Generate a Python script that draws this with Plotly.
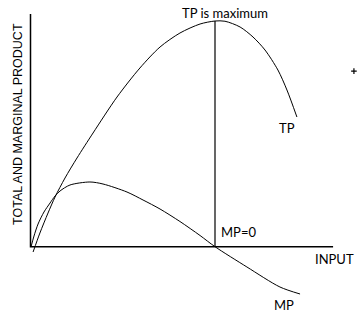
import plotly.graph_objects as go

# Total product (TP) curve, in input / output units
tp_x = [0.14, 0.51, 0.95, 1.33, 1.87, 2.52, 3.39, 4.69, 5.93, 7.02, 8.10, 9.19, 10.0, 10.54, 11.36, 12.06, 12.71, 13.41, 13.90, 14.44]
tp_y = [-2.35, 6.07, 14.93, 22.02, 30.44, 39.30, 50.38, 66.33, 79.18, 88.48, 94.68, 98.67, 100.0, 99.9, 97.34, 92.91, 87.15, 78.29, 69.43, 57.47]

# Marginal product (MP) curve
mp_x = [0.03, 0.19, 0.41, 0.73, 1.06, 1.33, 1.60, 2.14, 3.22, 3.93, 5.23, 6.10, 7.02, 8.10, 9.19, 10.0, 11.73, 13.52, 14.61]
mp_y = [0.0, 4.74, 10.06, 15.37, 19.36, 22.46, 24.68, 27.34, 28.67, 27.78, 24.23, 20.69, 16.70, 11.17, 4.96, 0.0, -8.99, -17.86, -20.96]

x_axis_end = 16.4
y_axis_end = 103.1

stray_x = [17.53]
stray_y = [77.8]

labels = {
    "title_max": "TP is maximum",
    "tp": "TP",
    "mp": "MP",
    "mp0": "MP=0",
    "xlab": "INPUT",
    "ylab": "TOTAL AND MARGINAL PRODUCT",
}

i_max = tp_y.index(max(tp_y))
x_max = tp_x[i_max]
y_max = tp_y[i_max]

fig = go.Figure()

# axes
fig.add_trace(go.Scatter(x=[0, 0, x_axis_end], y=[y_axis_end, 0, 0], mode="lines",
                         line=dict(color="black", width=1.5), hoverinfo="skip"))
# vertical line at TP max
fig.add_trace(go.Scatter(x=[x_max, x_max], y=[0, y_max], mode="lines",
                         line=dict(color="black", width=1.2), hoverinfo="skip"))
# TP
fig.add_trace(go.Scatter(x=tp_x, y=tp_y, mode="lines",
                         line=dict(color="black", width=1, shape="spline", smoothing=0.8)))
# MP
fig.add_trace(go.Scatter(x=mp_x, y=mp_y, mode="lines",
                         line=dict(color="black", width=1, shape="spline", smoothing=0.8)))
# stray mark
fig.add_trace(go.Scatter(x=stray_x, y=stray_y, mode="markers",
                         marker=dict(symbol="cross-thin", size=4, line=dict(color="black", width=1.2))))

font_main = dict(family="Lato", size=13, color="black")

ann = [
    dict(x=x_max + 0.54, y=y_max + 3.5, text=labels["title_max"]),
    dict(x=13.92, y=52.8, text=labels["tp"]),
    dict(x=11.3, y=6.5, text=labels["mp0"]),
    dict(x=16.45, y=-5.4, text=labels["xlab"]),
    dict(x=13.74, y=-25.8, text=labels["mp"]),
]
for a in ann:
    fig.add_annotation(x=a["x"], y=a["y"], text=a["text"], showarrow=False,
                       xanchor="center", yanchor="middle", font=font_main)

fig.add_annotation(x=-0.68, y=54.4, text=labels["ylab"], textangle=-90, showarrow=False,
                   xanchor="center", yanchor="middle",
                   font=dict(family="Liberation Sans", size=12.5, color="black"))

fig.update_layout(
    width=359, height=314,
    margin=dict(l=0, r=0, t=0, b=0),
    paper_bgcolor="white", plot_bgcolor="white",
    showlegend=False,
    xaxis=dict(range=[-1.653, 17.805], visible=False, fixedrange=True),
    yaxis=dict(range=[-29.82, 109.31], visible=False, fixedrange=True),
)

fig.write_html("out.html", config={"displayModeBar": False})
